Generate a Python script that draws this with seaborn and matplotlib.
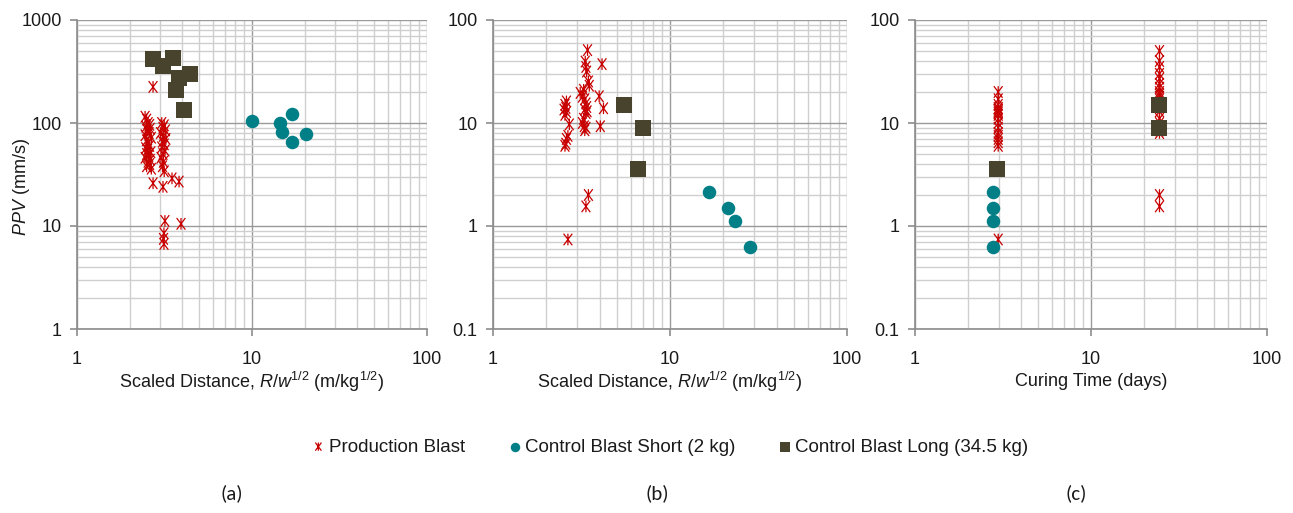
import numpy as np
import pandas as pd
import matplotlib
matplotlib.use("Agg")
import matplotlib.pyplot as plt
import matplotlib.ticker as mticker
from matplotlib.path import Path
import seaborn as sns

# ---- data ----
# (a) PPV vs scaled distance
prod_a_sd = [2.45, 2.5, 2.55, 2.6, 2.48, 2.62, 2.52, 2.58, 2.45, 2.66, 2.5, 2.55,
             2.6, 2.47, 2.53, 2.64, 2.5, 2.57, 2.45, 2.62, 2.55, 2.6, 2.5, 2.66,
             3.05, 3.15, 3.1, 3.2, 3.0, 3.12, 3.22, 3.08, 3.15, 3.05, 3.18, 3.1,
             3.02, 3.12, 3.08, 3.15,
             2.72, 2.72, 3.1, 3.49, 3.83, 3.18, 3.93, 3.14, 3.12, 3.14]
prod_a_ppv = [115, 108, 100, 96, 92, 88, 85, 80, 76, 72, 68, 64,
              60, 57, 55, 52, 50, 48, 46, 44, 42, 40, 38, 36,
              100, 95, 90, 85, 80, 75, 70, 66, 62, 58, 54, 50,
              46, 42, 38, 34,
              224, 26, 24, 29, 27, 11.2, 10.5, 8.5, 7.5, 6.7]
short_a_sd = [10.0, 14.5, 16.9, 14.8, 16.9, 20.4]
short_a_ppv = [104, 101, 122, 82, 65.5, 78]
long_a_sd = [2.72, 3.1, 3.54, 3.83, 4.43, 3.68, 4.09]
long_a_ppv = [418, 357, 428, 274, 299, 209, 134]

# (b) second response vs scaled distance
prod_b_sd = [3.42, 3.32, 3.35, 3.38, 3.46, 3.5, 3.25, 3.11, 3.2, 3.3, 3.35, 3.38,
             3.3, 3.35, 3.4, 3.25, 3.28, 3.3, 3.35, 3.2,
             4.13, 3.98, 4.21, 4.04,
             2.6, 2.55, 2.58, 2.52, 2.6, 2.55, 2.7, 2.65, 2.6, 2.58, 2.55,
             3.46, 3.35, 2.65]
prod_b_val = [51, 39.5, 35, 31.6, 25.3, 23, 21, 19.6, 18, 17, 15.5, 14.3,
              13.5, 12.5, 13, 11, 9.3, 8.5, 9.0, 10,
              37.3, 18.2, 13.9, 9.3,
              16.2, 15, 14, 13.5, 12.8, 12, 9.7, 7.5, 7.0, 6.3, 6.0,
              2.0, 1.55, 0.74]
short_b_sd = [16.7, 21.2, 23.3, 28.2]
short_b_val = [2.12, 1.50, 1.11, 0.62]
long_b_sd = [5.47, 7.05, 6.63]
long_b_val = [14.8, 9.0, 3.56]

# (c) same response vs curing time
prod_c_days = [2.97] * 17 + [24.5] * 20
prod_c_val = [20, 17, 15, 14, 13.5, 13, 12.5, 12, 11, 10, 9, 8, 7.5, 7, 6.5, 6, 0.74,
              50, 40, 35, 30, 27, 24, 22, 20, 19, 18, 17, 15, 13, 11, 10, 9, 8.5, 8,
              2.0, 1.55]
short_c_days = [2.79, 2.79, 2.79, 2.79]
short_c_val = [2.12, 1.50, 1.11, 0.62]
long_c_days = [2.94, 24.4, 24.4]
long_c_val = [3.6, 14.8, 9.0]

series_names = ["Production Blast", "Control Blast Short (2 kg)", "Control Blast Long (34.5 kg)"]
panel_tags = ["(a)", "(b)", "(c)"]

RED = "#c80000"
TEAL = "#007f87"
OLIVE = "#48432c"

sns.set_style("white")
plt.rcParams["font.family"] = ["Liberation Sans", "DejaVu Sans"]
plt.rcParams["mathtext.fontset"] = "custom"
plt.rcParams["mathtext.rm"] = "Liberation Sans"
plt.rcParams["mathtext.it"] = "Liberation Sans:italic"

# Excel-like star marker: an X with a vertical bar
star = Path([(-0.75, -1), (0.75, 1), (-0.75, 1), (0.75, -1), (0, -1), (0, 1)],
            [Path.MOVETO, Path.LINETO, Path.MOVETO, Path.LINETO, Path.MOVETO, Path.LINETO])

fig = plt.figure(figsize=(12.93, 5.13), dpi=100)
W, H = 1293, 513
boxes = [(77, 427), (493, 847), (915, 1267)]
top_px, bot_px = 20, 329

panels = [
    (prod_a_sd, prod_a_ppv, short_a_sd, short_a_ppv, long_a_sd, long_a_ppv, (1, 1000)),
    (prod_b_sd, prod_b_val, short_b_sd, short_b_val, long_b_sd, long_b_val, (0.1, 100)),
    (prod_c_days, prod_c_val, short_c_days, short_c_val, long_c_days, long_c_val, (0.1, 100)),
]
xlabels = ["Scaled Distance, $R/w^{1/2}$ (m/kg$^{1/2}$)",
           "Scaled Distance, $R/w^{1/2}$ (m/kg$^{1/2}$)",
           "Curing Time (days)"]

fmt = mticker.FuncFormatter(lambda v, _: f"{v:g}")
axes = []
for i, (px, py, sx, sy, lx, ly, ylim) in enumerate(panels):
    l, r = boxes[i]
    ax = fig.add_axes([l / W, 1 - bot_px / H, (r - l) / W, (bot_px - top_px) / H])
    axes.append(ax)
    ax.set_xscale("log")
    ax.set_yscale("log")
    ax.set_xlim(1, 100)
    ax.set_ylim(*ylim)
    ax.set_axisbelow(True)

    sns.scatterplot(x=px, y=py, ax=ax, marker=star, s=70, facecolor="none",
                    edgecolor=RED, linewidth=0.9, color=RED, label=series_names[0],
                    legend=False, zorder=3)
    sns.scatterplot(x=sx, y=sy, ax=ax, marker="o", s=95, color=TEAL,
                    edgecolor=TEAL, linewidth=0, label=series_names[1],
                    legend=False, zorder=3)
    sns.scatterplot(x=lx, y=ly, ax=ax, marker="s", s=125, color=OLIVE,
                    edgecolor=OLIVE, linewidth=0, label=series_names[2],
                    legend=False, zorder=3)

    ax.xaxis.set_major_locator(mticker.LogLocator(base=10, numticks=10))
    ax.yaxis.set_major_locator(mticker.LogLocator(base=10, numticks=10))
    ax.xaxis.set_minor_locator(mticker.LogLocator(base=10, subs=np.arange(2, 10), numticks=20))
    ax.yaxis.set_minor_locator(mticker.LogLocator(base=10, subs=np.arange(2, 10), numticks=20))
    ax.xaxis.set_major_formatter(fmt)
    ax.yaxis.set_major_formatter(fmt)
    ax.xaxis.set_minor_formatter(mticker.NullFormatter())
    ax.yaxis.set_minor_formatter(mticker.NullFormatter())

    ax.grid(which="major", color="#9a9a9a", linewidth=1.0)
    ax.grid(which="minor", color="#cfcfcf", linewidth=1.0)
    for s in ["top", "right"]:
        ax.spines[s].set_visible(False)
    for s in ["left", "bottom"]:
        ax.spines[s].set_color("#8c8c8c")
        ax.spines[s].set_linewidth(1.2)
    ax.tick_params(which="major", direction="out", length=5, width=1.2,
                   color="#8c8c8c", labelsize=13, labelcolor="#1a1a1a",
                   left=True, bottom=True)
    ax.tick_params(axis="x", which="major", pad=11)
    ax.tick_params(axis="y", which="major", pad=6)
    ax.tick_params(which="minor", length=0)
    ax.set_xlabel(xlabels[i], fontsize=13, color="#1a1a1a")
    ax.xaxis.set_label_coords(0.5, -(382 - bot_px) / (bot_px - top_px))
    ax.xaxis.label.set_verticalalignment("center")
    ax.set_ylabel("")

fig.text(22 / W, 1 - 187 / H, r"$\it{PPV}$ (mm/s)", rotation=90, ha="center",
         va="center", fontsize=13, color="#1a1a1a")

handles, labels = axes[0].get_legend_handles_labels()
leg = fig.legend(handles, labels, loc="center", bbox_to_anchor=(671 / W, 1 - 447 / H),
                 ncol=3, frameon=False, fontsize=13.5, markerscale=0.7,
                 handlelength=0.5, handletextpad=0.3, columnspacing=2.4)
for t in leg.get_texts():
    t.set_color("#1a1a1a")

for tag, xc in zip(panel_tags, [232, 657, 1076]):
    fig.text(xc / W, 1 - 493 / H, tag, ha="center", va="center", fontsize=15,
             family=["Carlito", "Lato", "DejaVu Sans"], color="#1a1a1a")

fig.savefig("out.png", dpi=100, facecolor="white")
